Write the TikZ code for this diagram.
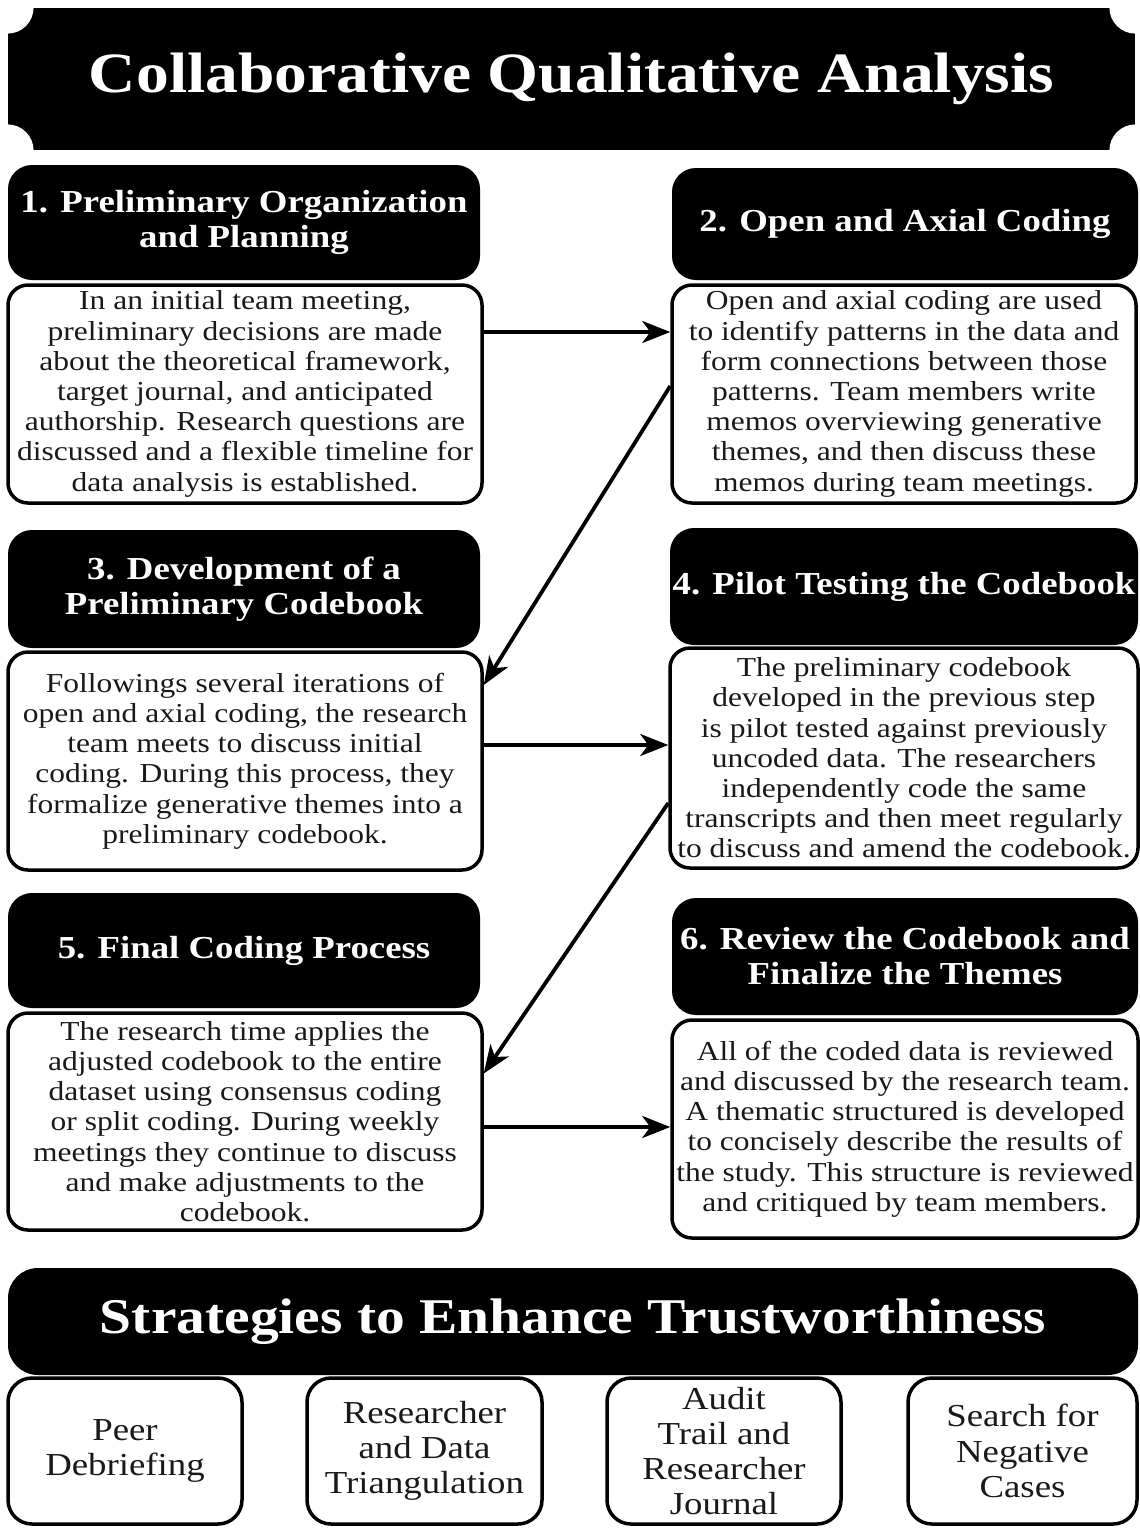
\documentclass[tikz,border=0pt]{standalone}
\usepackage{fontspec}
\setmainfont[FakeStretch=1.15]{Liberation Serif}
\usetikzlibrary{arrows.meta,calc}
\begin{document}
\begin{tikzpicture}[x=0.5pt,y=-0.5pt,
  titlebox/.style={fill=black,text=white,inner sep=0pt,font=\fontsize{28.5}{32}\selectfont\bfseries},
  bannerbox/.style={fill=black,text=white,inner sep=0pt,rounded corners=15pt,font=\fontsize{25}{28}\selectfont\bfseries},
  hdr/.style={fill=black,text=white,inner sep=0pt,rounded corners=12pt,align=center,font=\fontsize{16}{17.5}\selectfont\bfseries},
  bodybox/.style={draw=black,fill=white,line width=1.75pt,rounded corners=10pt,inner sep=0pt,align=center,text=black!90,font=\fontsize{13.7}{15.1}\selectfont},
  smallbox/.style={draw=black,fill=white,line width=1.75pt,rounded corners=12pt,inner sep=0pt,align=center,text=black!90,font=\fontsize{16}{17.6}\selectfont},
  arr/.style={line width=1.9pt,-{Stealth[length=14pt,width=11pt,inset=4pt]}}
]
\useasboundingbox (0,0) rectangle (1140,1528);

% title banner with notched corners
\node[titlebox,minimum width=563.5pt,minimum height=71pt] (T) at (571.5,79) {Collaborative Qualitative Analysis};
\fill[white] (T.north west) circle[radius=13pt];
\fill[white] (T.north east) circle[radius=13pt];
\fill[white] (T.south west) circle[radius=13pt];
\fill[white] (T.south east) circle[radius=13pt];

% step headers
\node[hdr,minimum width=236pt,minimum height=57.5pt] (H1) at (244,222.5) {1. Preliminary Organization\\and Planning};
\node[hdr,minimum width=233pt,minimum height=56pt] (H2) at (905,224) {2. Open and Axial Coding};
\node[hdr,minimum width=236pt,minimum height=59pt] (H3) at (244,589) {3. Development of a\\Preliminary Codebook};
\node[hdr,minimum width=234pt,minimum height=58.5pt] (H4) at (904,586.5) {4. Pilot Testing the Codebook};
\node[hdr,minimum width=236pt,minimum height=57.5pt] (H5) at (244,950.5) {5. Final Coding Process};
\node[hdr,minimum width=233pt,minimum height=58.5pt] (H6) at (905,956.5) {6. Review the Codebook and\\Finalize the Themes};

% step bodies
\node[bodybox,minimum width=237pt,minimum height=109pt] (B1) at (245,394) {In an initial team meeting,\\preliminary decisions are made\\about the theoretical framework,\\target journal, and anticipated\\authorship. Research questions are\\discussed and a flexible timeline for\\data analysis is established.};
\node[bodybox,minimum width=232pt,minimum height=109pt] (B2) at (904,394) {Open and axial coding are used\\to identify patterns in the data and\\form connections between those\\patterns. Team members write\\memos overviewing generative\\themes, and then discuss these\\memos during team meetings.};
\node[bodybox,minimum width=237pt,minimum height=109pt] (B3) at (245,761) {Followings several iterations of\\open and axial coding, the research\\team meets to discuss initial\\coding. During this process, they\\formalize generative themes into a\\preliminary codebook.};
\node[bodybox,minimum width=234pt,minimum height=110pt] (B4) at (904,758) {The preliminary codebook\\developed in the previous step\\is pilot tested against previously\\uncoded data. The researchers\\independently code the same\\transcripts and then meet regularly\\to discuss and amend the codebook.};
\node[bodybox,minimum width=237pt,minimum height=108.5pt] (B5) at (245,1121.5) {The research time applies the\\adjusted codebook to the entire\\dataset using consensus coding\\or split coding. During weekly\\meetings they continue to discuss\\and make adjustments to the\\codebook.};
\node[bodybox,minimum width=233pt,minimum height=109pt] (B6) at (905,1129) {All of the coded data is reviewed\\and discussed by the research team.\\A thematic structured is developed\\to concisely describe the results of\\the study. This structure is reviewed\\and critiqued by team members.};

% arrows
\coordinate (a1) at ([yshift=31pt]B1.east);
\draw[arr] (a1) -- (a1 -| B2.west);
\draw[arr] ([yshift=4pt]B2.west) -- ([yshift=38pt]B3.east);
\coordinate (a3) at ([yshift=8pt]B3.east);
\draw[arr] (a3) -- (a3 -| B4.west);
\draw[arr] ([yshift=-22.5pt]B4.west) -- ([yshift=24pt]B5.east);
\coordinate (a5) at ([yshift=-2.75pt]B5.east);
\draw[arr] (a5) -- (a5 -| B6.west);

% strategies banner
\node[bannerbox,minimum width=565pt,minimum height=53.5pt] (S) at (573,1321.5) {Strategies to Enhance Trustworthiness};

\node[smallbox,minimum width=117pt,minimum height=73pt] (P1) at (125,1451) {Peer\\Debriefing};
\node[smallbox,minimum width=117.5pt,minimum height=73pt] (P2) at (424.5,1451) {Researcher\\and Data\\Triangulation};
\node[smallbox,minimum width=117pt,minimum height=73pt] (P3) at (724,1451) {Audit\\Trail and\\Researcher\\Journal};
\node[smallbox,minimum width=114.5pt,minimum height=73pt] (P4) at (1022.5,1451) {Search for\\Negative\\Cases};
\end{tikzpicture}
\end{document}
